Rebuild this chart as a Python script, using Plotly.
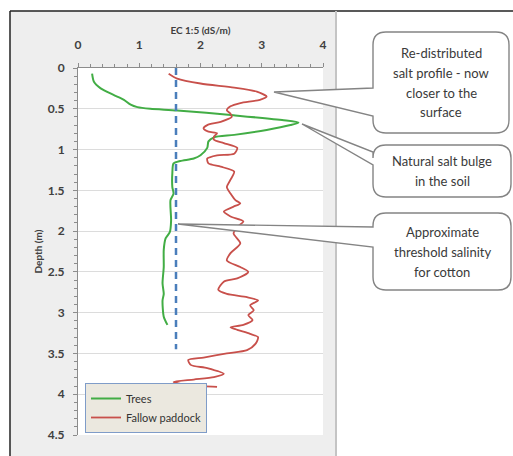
import plotly.graph_objects as go

# ---- data ----
trees_ec = [0.23, 0.26, 0.37, 0.58, 0.75, 0.86, 0.97, 1.18, 1.62, 2.54, 3.36, 3.60, 3.47, 3.08,
            2.55, 2.22, 2.13, 2.11, 2.00, 1.89, 1.67, 1.56, 1.54, 1.54, 1.56, 1.51, 1.52, 1.50,
            1.43, 1.40, 1.40, 1.38, 1.40, 1.38, 1.40, 1.46]
trees_depth = [0.07, 0.17, 0.25, 0.33, 0.39, 0.45, 0.48, 0.50, 0.52, 0.58, 0.64, 0.67, 0.70, 0.76,
               0.82, 0.85, 0.90, 0.98, 1.07, 1.11, 1.14, 1.17, 1.29, 1.46, 1.54, 1.62, 1.87, 2.01,
               2.09, 2.23, 2.44, 2.64, 2.77, 2.85, 3.05, 3.15]

fallow_ec = [1.48, 1.62, 2.00, 2.55, 2.92, 3.08, 2.97, 2.65, 2.49, 2.43, 2.49, 2.51, 2.33, 2.11,
             2.05, 2.13, 2.27, 2.22, 2.22, 2.38, 2.60, 2.55, 2.27, 2.11, 2.13, 2.33, 2.55, 2.49,
             2.43, 2.49, 2.57, 2.65, 2.54, 2.38, 2.49, 2.70, 2.60, 2.54, 2.65, 2.49, 2.43, 2.65,
             2.78, 2.60, 2.38, 2.29, 2.43, 2.76, 2.94, 2.81, 2.87, 2.78, 2.85, 2.70, 2.49, 2.60,
             2.81, 2.94, 2.90, 2.76, 2.43, 2.05, 1.80, 1.84, 2.11, 2.38, 2.22, 1.89, 1.56, 1.72,
             2.05, 2.27]
fallow_depth = [0.07, 0.13, 0.19, 0.24, 0.29, 0.35, 0.39, 0.43, 0.47, 0.52, 0.56, 0.60, 0.66, 0.70,
                0.74, 0.78, 0.80, 0.84, 0.88, 0.92, 0.98, 1.05, 1.07, 1.11, 1.17, 1.21, 1.27, 1.37,
                1.46, 1.54, 1.62, 1.66, 1.70, 1.76, 1.82, 1.88, 1.95, 2.03, 2.15, 2.27, 2.36, 2.44,
                2.50, 2.58, 2.62, 2.72, 2.77, 2.81, 2.85, 2.91, 2.97, 3.03, 3.09, 3.15, 3.18, 3.21,
                3.26, 3.30, 3.38, 3.46, 3.50, 3.55, 3.58, 3.64, 3.68, 3.75, 3.79, 3.82, 3.85, 3.88,
                3.90, 3.91]

threshold_ec = [1.6, 1.6]
threshold_depth = [0.0, 3.45]

callout_lines = [
    ["Re-distributed", "salt profile - now", "closer to the", "surface"],
    ["Natural salt bulge", "in the soil"],
    ["Approximate", "threshold salinity", "for cotton"],
]

# ---- geometry helpers (pixels -> paper) ----
W, H = 513, 456
L, R, T, B = 78, 323, 68, 435
Wp, Hp = R - L, B - T


def X(px):
    return (px - L) / Wp


def Y(py):
    return (B - py) / Hp


def callout_path(x0, y0, x1, y1, wa, wb, tip, r=13):
    def p(px, py):
        return f"{X(px):.5f},{Y(py):.5f}"
    s = f"M {p(x0 + r, y0)} L {p(x1 - r, y0)} Q {p(x1, y0)} {p(x1, y0 + r)} "
    s += f"L {p(x1, y1 - r)} Q {p(x1, y1)} {p(x1 - r, y1)} "
    s += f"L {p(x0 + r, y1)} Q {p(x0, y1)} {p(x0, y1 - r)} "
    s += f"L {p(x0, wb)} L {p(tip[0], tip[1])} L {p(x0, wa)} "
    s += f"L {p(x0, y0 + r)} Q {p(x0, y0)} {p(x0 + r, y0)} Z"
    return s


FONT = "Lato, 'Open Sans', sans-serif"

fig = go.Figure()
fig.add_trace(go.Scatter(x=trees_ec, y=trees_depth, mode="lines", name="Trees",
                         line=dict(color="#42ad45", width=2, shape="spline", smoothing=0.7)))
fig.add_trace(go.Scatter(x=fallow_ec, y=fallow_depth, mode="lines", name="Fallow paddock",
                         line=dict(color="#c8504b", width=1.8, shape="spline", smoothing=0.7)))
fig.add_trace(go.Scatter(x=threshold_ec, y=threshold_depth, mode="lines", showlegend=False,
                         line=dict(color="#4a7ebb", width=2.5, dash="7px,5px")))

shapes = [
    dict(type="rect", xref="paper", yref="paper", x0=X(10), x1=X(336), y0=Y(11), y1=Y(470),
         fillcolor="#eeeeee", line=dict(width=0), layer="below"),
    dict(type="rect", xref="paper", yref="paper", x0=0, x1=1, y0=0, y1=1,
         fillcolor="white", line=dict(width=0), layer="below"),
    dict(type="line", xref="paper", yref="paper", x0=X(10), x1=X(520), y0=Y(11), y1=Y(11),
         line=dict(color="#222222", width=1.5), layer="above"),
    dict(type="line", xref="paper", yref="paper", x0=X(10), x1=X(10), y0=Y(11), y1=Y(470),
         line=dict(color="#222222", width=1.5), layer="above"),
    dict(type="line", xref="paper", yref="paper", x0=X(336), x1=X(336), y0=Y(11), y1=Y(470),
         line=dict(color="#c4c4c4", width=2), layer="above"),
]

boxes = [
    (373, 32, 509, 133, 88, 116, (274, 92)),
    (373, 145, 511, 197, 152, 165, (302, 124)),
    (373, 213, 511, 290, 227, 247, (178, 224)),
]
LINE_GAP = 20
annotations = []
for (x0, y0, x1, y1, wa, wb, tip), lines in zip(boxes, callout_lines):
    shapes.append(dict(type="path", xref="paper", yref="paper",
                       path=callout_path(x0, y0, x1, y1, wa, wb, tip),
                       fillcolor="white", line=dict(color="#848484", width=1.4), layer="above"))
    cy = (y0 + y1) / 2
    n = len(lines)
    for i, txt in enumerate(lines):
        ly = cy + (i - (n - 1) / 2) * LINE_GAP
        annotations.append(dict(xref="paper", yref="paper", x=X((x0 + x1) / 2), y=Y(ly),
                                text=txt, showarrow=False, align="center",
                                font=dict(family=FONT, size=13, color="#3a3a3a"),
                                xanchor="center", yanchor="middle"))

fig.update_layout(
    width=W, height=H,
    margin=dict(l=L, r=W - R, t=T, b=H - B, pad=0),
    paper_bgcolor="white", plot_bgcolor="white",
    font=dict(family=FONT, color="#404040"),
    shapes=shapes, annotations=annotations,
    legend=dict(x=X(85), y=Y(433), xanchor="left", yanchor="bottom",
                bgcolor="#ebe8df", bordercolor="#7f9cc8", borderwidth=1,
                font=dict(family=FONT, size=11, color="#333333"),
                tracegroupgap=0),
    showlegend=True,
)
fig.update_xaxes(side="top", range=[0, 4], dtick=1, showgrid=False, zeroline=False,
                 showline=True, linecolor="#8c8c8c", linewidth=1,
                 ticks="outside", ticklen=4, tickcolor="#8c8c8c",
                 minor=dict(dtick=0.2, ticks="outside", ticklen=3, tickcolor="#8c8c8c"),
                 tickfont=dict(family=FONT, size=12, color="#404040", weight="bold"),
                 ticklabelstandoff=9,
                 title=dict(text="<b>EC 1:5 (dS/m)</b>", font=dict(family=FONT, size=10, color="#404040"),
                            standoff=0))
fig.update_yaxes(range=[4.5, 0], dtick=0.5, showgrid=True, gridcolor="#dcdcdc", gridwidth=1,
                 zeroline=False, showline=True, linecolor="#8c8c8c", linewidth=1,
                 ticks="outside", ticklen=4, tickcolor="#8c8c8c",
                 minor=dict(dtick=0.1, ticks="outside", ticklen=3, tickcolor="#8c8c8c", showgrid=False),
                 tickfont=dict(family=FONT, size=12, color="#404040", weight="bold"),
                 ticklabelstandoff=6,
                 title=dict(text="<b>Depth (m)</b>", font=dict(family=FONT, size=10, color="#404040"),
                            standoff=3))

fig.write_html("out.html", config={"displayModeBar": False},
               post_script="document.body.style.margin='0';")
